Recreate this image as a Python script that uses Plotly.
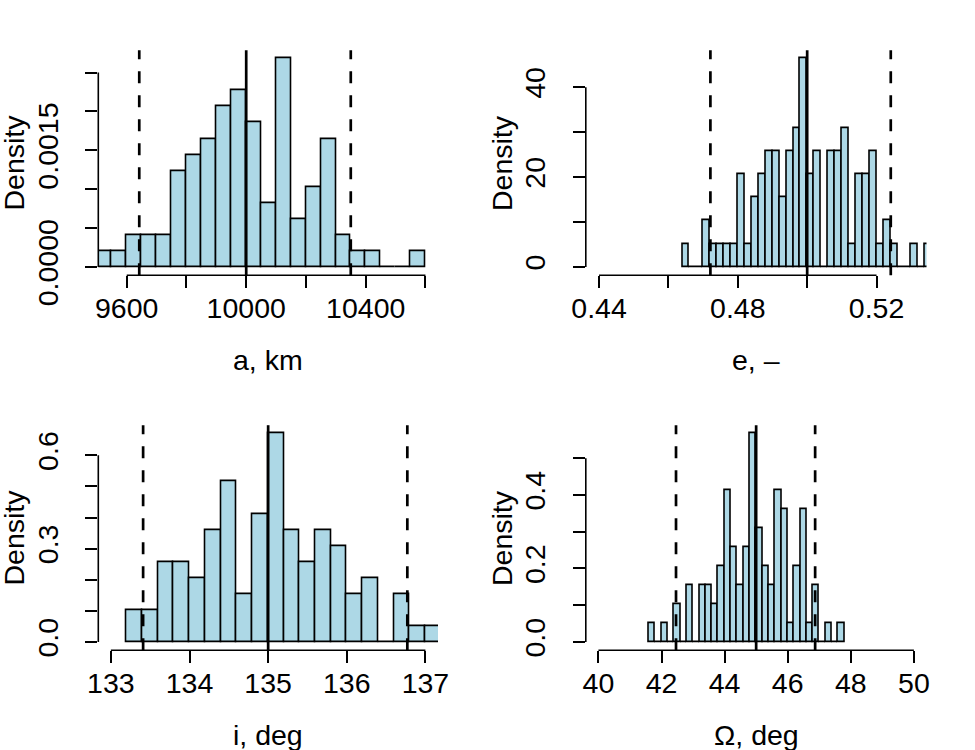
import plotly.graph_objects as go

# ---------------- data ----------------
N_SAMPLES = 97  # total number of samples in every histogram

# semi-major axis a, km
a_bin_left = [9500, 9550, 9600, 9650, 9700, 9750, 9800, 9850, 9900, 9950, 10000,
              10050, 10100, 10150, 10200, 10250, 10300, 10350, 10400, 10450, 10500, 10550]
a_counts = [1, 1, 2, 2, 2, 6, 7, 8, 10, 11, 9, 4, 13, 3, 5, 8, 2, 1, 1, 0, 0, 1]
a_bin_width = 50
a_center_line = 10000
a_bounds = [9642, 10350]

# eccentricity e
e_bin_left = [0.464, 0.466, 0.468, 0.470, 0.472, 0.474, 0.476, 0.478, 0.480, 0.482,
              0.484, 0.486, 0.488, 0.490, 0.492, 0.494, 0.496, 0.498, 0.500, 0.502,
              0.504, 0.506, 0.508, 0.510, 0.512, 0.514, 0.516, 0.518, 0.520, 0.522,
              0.524, 0.526, 0.528, 0.530, 0.532, 0.534]
e_counts = [1, 0, 0, 2, 1, 1, 1, 1, 4, 1, 3, 4, 5, 5, 3, 5, 6, 9, 4, 5,
            0, 5, 5, 6, 1, 4, 4, 5, 1, 2, 1, 0, 0, 1, 0, 1]
e_bin_width = 0.002
e_center_line = 0.500
e_bounds = [0.4721, 0.5241]

# inclination i, deg
i_bin_left = [133.2, 133.4, 133.6, 133.8, 134.0, 134.2, 134.4, 134.6, 134.8, 135.0,
              135.2, 135.4, 135.6, 135.8, 136.0, 136.2, 136.4, 136.6, 136.8, 137.0]
i_counts = [2, 2, 5, 5, 4, 7, 10, 3, 8, 13, 7, 5, 7, 6, 3, 4, 0, 3, 1, 1]
i_bin_width = 0.2
i_center_line = 135.0
i_bounds = [133.41, 136.77]

# RAAN Omega, deg
om_bin_left = [41.6, 41.8, 42.0, 42.2, 42.4, 42.6, 42.8, 43.0, 43.2, 43.4, 43.6,
               43.8, 44.0, 44.2, 44.4, 44.6, 44.8, 45.0, 45.2, 45.4, 45.6, 45.8,
               46.0, 46.2, 46.4, 46.6, 46.8, 47.0, 47.2, 47.4, 47.6]
om_counts = [1, 0, 1, 0, 2, 0, 3, 0, 3, 3, 2, 4, 8, 5, 3, 5, 11, 6, 4, 3, 8, 7,
             1, 4, 7, 1, 3, 0, 1, 0, 1]
om_bin_width = 0.2
om_center_line = 45.0
om_bounds = [42.46, 46.87]

# axis ticks / labels
a_xticks = [9600, 9800, 10000, 10200, 10400, 10600]
a_xlabels = ["9600", "", "10000", "", "10400", ""]
a_yticks = [0, 0.0005, 0.0010, 0.0015, 0.0020, 0.0025]
a_ylabels = ["0.0000", "", "", "0.0015", "", ""]

e_xticks = [0.44, 0.46, 0.48, 0.50, 0.52]
e_xlabels = ["0.44", "", "0.48", "", "0.52"]
e_yticks = [0, 10, 20, 30, 40]
e_ylabels = ["0", "", "20", "", "40"]

i_xticks = [133, 134, 135, 136, 137]
i_xlabels = ["133", "134", "135", "136", "137"]
i_yticks = [0, 0.1, 0.2, 0.3, 0.4, 0.5, 0.6]
i_ylabels = ["0.0", "", "", "0.3", "", "", "0.6"]

om_xticks = [40, 42, 44, 46, 48, 50]
om_xlabels = ["40", "42", "44", "46", "48", "50"]
om_yticks = [0, 0.1, 0.2, 0.3, 0.4, 0.5]
om_ylabels = ["0.0", "", "0.2", "", "0.4", ""]

x_titles = ["a, km", "e, \u2013", "i, deg", "\u03a9, deg"]

# ---------------- layout (pixels) ----------------
W, H = 975, 750
FONT = "Liberation Sans"
FS = 28.5
FILL = "#ADD8E6"
LW = 1.6

# plot regions in pixels: (left, right, top, bottom)
regions = [
    (98.3, 438.0, 50.2, 275.3),
    (585.8, 926.5, 50.2, 275.3),
    (98.3, 438.0, 425.2, 650.3),
    (585.8, 926.5, 425.2, 650.3),
]
x_ranges = [
    [9504.9, 10642.0],
    [0.43618, 0.53440],
    [132.84, 137.16],
    [39.6, 50.4],
]

panels = [
    (a_bin_left, a_counts, a_bin_width, a_center_line, a_bounds, a_xticks, a_xlabels, a_yticks, a_ylabels),
    (e_bin_left, e_counts, e_bin_width, e_center_line, e_bounds, e_xticks, e_xlabels, e_yticks, e_ylabels),
    (i_bin_left, i_counts, i_bin_width, i_center_line, i_bounds, i_xticks, i_xlabels, i_yticks, i_ylabels),
    (om_bin_left, om_counts, om_bin_width, om_center_line, om_bounds, om_xticks, om_xlabels, om_yticks, om_ylabels),
]

fig = go.Figure()
shapes = []
annotations = []
layout_axes = {}

for idx, (left, counts, bw, cline, bnds, xt, xl, yt, yl) in enumerate(panels):
    n = idx + 1
    xa = "x" if n == 1 else f"x{n}"
    ya = "y" if n == 1 else f"y{n}"
    xkey = "xaxis" if n == 1 else f"xaxis{n}"
    ykey = "yaxis" if n == 1 else f"yaxis{n}"

    dens = [c / (N_SAMPLES * bw) for c in counts]
    centers = [l + bw / 2 for l in left]
    fig.add_trace(go.Bar(
        x=centers, y=dens, width=[bw] * len(centers),
        marker=dict(color=FILL, line=dict(color="black", width=LW)),
        xaxis=xa, yaxis=ya, showlegend=False, hoverinfo="skip",
    ))

    ymax = max(dens)
    yr = [-0.04 * ymax, 1.04 * ymax]
    L, R, T, B = regions[idx]

    common = dict(
        ticks="outside", ticklen=12, tickwidth=LW, tickcolor="black",
        showline=False, showgrid=False, zeroline=False, automargin=False,
        tickfont=dict(family=FONT, size=FS, color="black"),
    )
    layout_axes[xkey] = dict(
        domain=[L / W, R / W], range=x_ranges[idx], anchor=ya,
        tickmode="array", tickvals=xt, ticktext=xl, ticklabelstandoff=-5, **common,
    )
    layout_axes[ykey] = dict(
        domain=[1 - B / H, 1 - T / H], range=yr, anchor=xa,
        tickmode="array", tickvals=yt, ticktext=yl, tickangle=-90, ticklabelstandoff=16, **common,
    )

    # R-style axis lines spanning first..last tick
    shapes.append(dict(type="line", xref=xa, yref=f"{ya} domain", x0=xt[0], x1=xt[-1], y0=0, y1=0,
                       line=dict(color="black", width=LW)))
    shapes.append(dict(type="line", xref=f"{xa} domain", yref=ya, x0=0, x1=0, y0=yt[0], y1=yt[-1],
                       line=dict(color="black", width=LW)))
    # reference lines
    shapes.append(dict(type="line", xref=xa, yref=f"{ya} domain", x0=cline, x1=cline, y0=0, y1=1,
                       line=dict(color="black", width=2.7)))
    for b in bnds:
        shapes.append(dict(type="line", xref=xa, yref=f"{ya} domain", x0=b, x1=b, y0=0, y1=1,
                           line=dict(color="black", width=2.7, dash="12px,12px")))

    # titles
    annotations.append(dict(text=x_titles[idx], xref="paper", yref="paper",
                            x=((L + R) / 2) / W, y=1 - (B + 85) / H, xanchor="center", yanchor="middle",
                            showarrow=False, font=dict(family=FONT, size=FS, color="black")))
    annotations.append(dict(text="Density", xref="paper", yref="paper",
                            x=(L - 84.5) / W, y=1 - ((T + B) / 2) / H, xanchor="center", yanchor="middle",
                            textangle=-90, showarrow=False, font=dict(family=FONT, size=FS, color="black")))

fig.update_layout(
    width=W, height=H, margin=dict(l=0, r=0, t=0, b=0),
    template="none", plot_bgcolor="white", paper_bgcolor="white",
    bargap=0, shapes=shapes, annotations=annotations, **layout_axes,
)

fig.write_html("out.html")
